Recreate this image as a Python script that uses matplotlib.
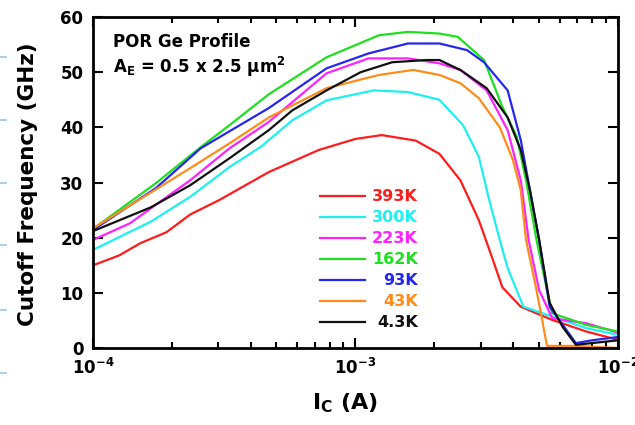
import numpy as np
import matplotlib.pyplot as plt
from matplotlib.lines import Line2D

plt.rcParams['font.family'] = ['DejaVu Sans']
plt.rcParams['font.weight'] = 'bold'
plt.rcParams['mathtext.fontset'] = 'dejavusans'
plt.rcParams['mathtext.default'] = 'bf'

temps = ['393K', '300K', '223K', '162K', '93K', '43K', '4.3K']
colors = ['#ff1c1c', '#1ef0f0', '#ff22ff', '#1fe01f', '#2626f2', '#ff8c1a', '#111111']

# collector current as log10(Ic / A), cutoff frequency in GHz
lg_393 = [-4.0, -3.9, -3.82, -3.72, -3.63, -3.52, -3.33, -3.14, -3.0, -2.9, -2.77, -2.68, -2.6, -2.53, -2.48, -2.44, -2.37, -2.25, -2.12, -2.0]
ft_393 = [15.0, 16.8, 19.0, 21.0, 24.2, 26.8, 31.9, 35.9, 37.9, 38.6, 37.6, 35.2, 30.4, 23.2, 16.5, 11.0, 7.5, 5.1, 3.0, 1.5]

lg_300 = [-4.0, -3.78, -3.63, -3.48, -3.36, -3.24, -3.11, -2.93, -2.8, -2.68, -2.59, -2.53, -2.49, -2.45, -2.42, -2.36, -2.25, -2.12, -2.0]
ft_300 = [17.8, 22.9, 27.4, 32.8, 36.5, 41.3, 44.9, 46.7, 46.4, 45.0, 40.4, 34.7, 26.8, 19.6, 14.5, 7.5, 5.7, 3.6, 2.4]

lg_223 = [-4.0, -3.86, -3.63, -3.48, -3.33, -3.11, -2.95, -2.8, -2.68, -2.6, -2.5, -2.42, -2.37, -2.34, -2.3, -2.25, -2.12, -2.0]
ft_223 = [19.6, 22.6, 30.4, 36.2, 41.0, 49.8, 52.5, 52.5, 51.6, 50.4, 46.7, 39.5, 30.4, 19.6, 10.5, 5.4, 4.5, 2.8]

lg_162 = [-4.0, -3.76, -3.59, -3.48, -3.33, -3.11, -2.91, -2.8, -2.68, -2.61, -2.51, -2.44, -2.385, -2.35, -2.31, -2.27, -2.25, -2.12, -2.0]
ft_162 = [21.6, 29.9, 36.4, 40.4, 46.0, 52.7, 56.7, 57.3, 57.0, 56.4, 52.2, 43.7, 38.3, 30.4, 19.6, 10.5, 6.3, 4.2, 3.0]

lg_93 = [-4.0, -3.76, -3.59, -3.33, -3.11, -2.95, -2.8, -2.68, -2.575, -2.51, -2.42, -2.37, -2.335, -2.3, -2.26, -2.16, -2.1, -2.0]
ft_93 = [21.4, 29.0, 36.2, 43.5, 50.7, 53.4, 55.2, 55.2, 54.0, 51.8, 46.7, 37.7, 28.6, 19.6, 7.5, 0.9, 1.4, 2.0]

lg_43 = [-4.0, -3.63, -3.48, -3.33, -3.11, -2.91, -2.78, -2.68, -2.6, -2.53, -2.45, -2.4, -2.37, -2.35, -2.31, -2.27, -2.16, -2.0]
ft_43 = [21.7, 32.6, 37.1, 41.8, 47.1, 49.5, 50.4, 49.5, 48.0, 45.3, 40.0, 34.1, 28.6, 19.6, 10.5, 0.4, 0.4, 0.0]

lg_4p3 = [-4.0, -3.78, -3.63, -3.48, -3.33, -3.24, -3.11, -2.98, -2.86, -2.73, -2.68, -2.6, -2.5, -2.42, -2.37, -2.335, -2.3, -2.26, -2.21, -2.16, -2.0]
ft_4p3 = [21.2, 25.5, 29.5, 34.4, 39.5, 43.1, 46.7, 50.0, 51.8, 52.2, 52.2, 50.4, 47.1, 41.8, 35.9, 28.6, 19.6, 8.2, 3.8, 0.6, 1.4]

series = [(lg_393, ft_393), (lg_300, ft_300), (lg_223, ft_223), (lg_162, ft_162),
          (lg_93, ft_93), (lg_43, ft_43), (lg_4p3, ft_4p3)]

fig = plt.figure(figsize=(6.35, 4.25), dpi=100)
ax = fig.add_axes([0.1465, 0.181, 0.8265, 0.779])

for (lg, ft), c in zip(series, colors):
    ax.plot(np.power(10.0, lg), ft, color=c, lw=1.6)

ax.set_xscale('log')
ax.set_xlim(1e-4, 1e-2)
ax.set_ylim(0, 60)
ax.set_yticks(range(0, 61, 10))

for s in ax.spines.values():
    s.set_linewidth(2)
ax.tick_params(which='both', direction='in', top=True, right=True, width=1.5)
ax.tick_params(which='major', length=7, labelsize=12, pad=7)
ax.tick_params(which='minor', length=4)

ax.set_ylabel('Cutoff Frequency (GHz)', fontsize=15.5, fontweight='bold')
ax.yaxis.set_label_coords(-0.105, 0.495)
ax.set_xlabel(r'I$_\mathbf{C}$ (A)', fontsize=16, fontweight='bold')
ax.xaxis.set_label_coords(0.48, -0.13)

ax.text(0.038, 0.924, 'POR Ge Profile', transform=ax.transAxes,
        fontsize=12, fontweight='bold', va='center')
ax.text(0.038, 0.849, r'A$_\mathbf{E}$ = 0.5 x 2.5 μm$^\mathbf{2}$', transform=ax.transAxes,
        fontsize=12, fontweight='bold', va='center')

# legend drawn by hand so the labels sit right-aligned
for i, (t, c) in enumerate(zip(temps, colors)):
    y = 0.459 - i * 0.0634
    ax.plot([0.432, 0.518], [y, y], color=c, lw=1.6, transform=ax.transAxes)
    ax.text(0.619, y, t, color=c, fontsize=11.5, fontweight='bold',
            ha='right', va='center', transform=ax.transAxes)

# small light-blue marks along the left edge
for yy in [57, 120, 183, 245, 310, 373]:
    fig.add_artist(Line2D([0, 6 / 635], [1 - yy / 425] * 2, color='#9cc6e4', lw=1.2))

fig.savefig('out.png', dpi=100)
